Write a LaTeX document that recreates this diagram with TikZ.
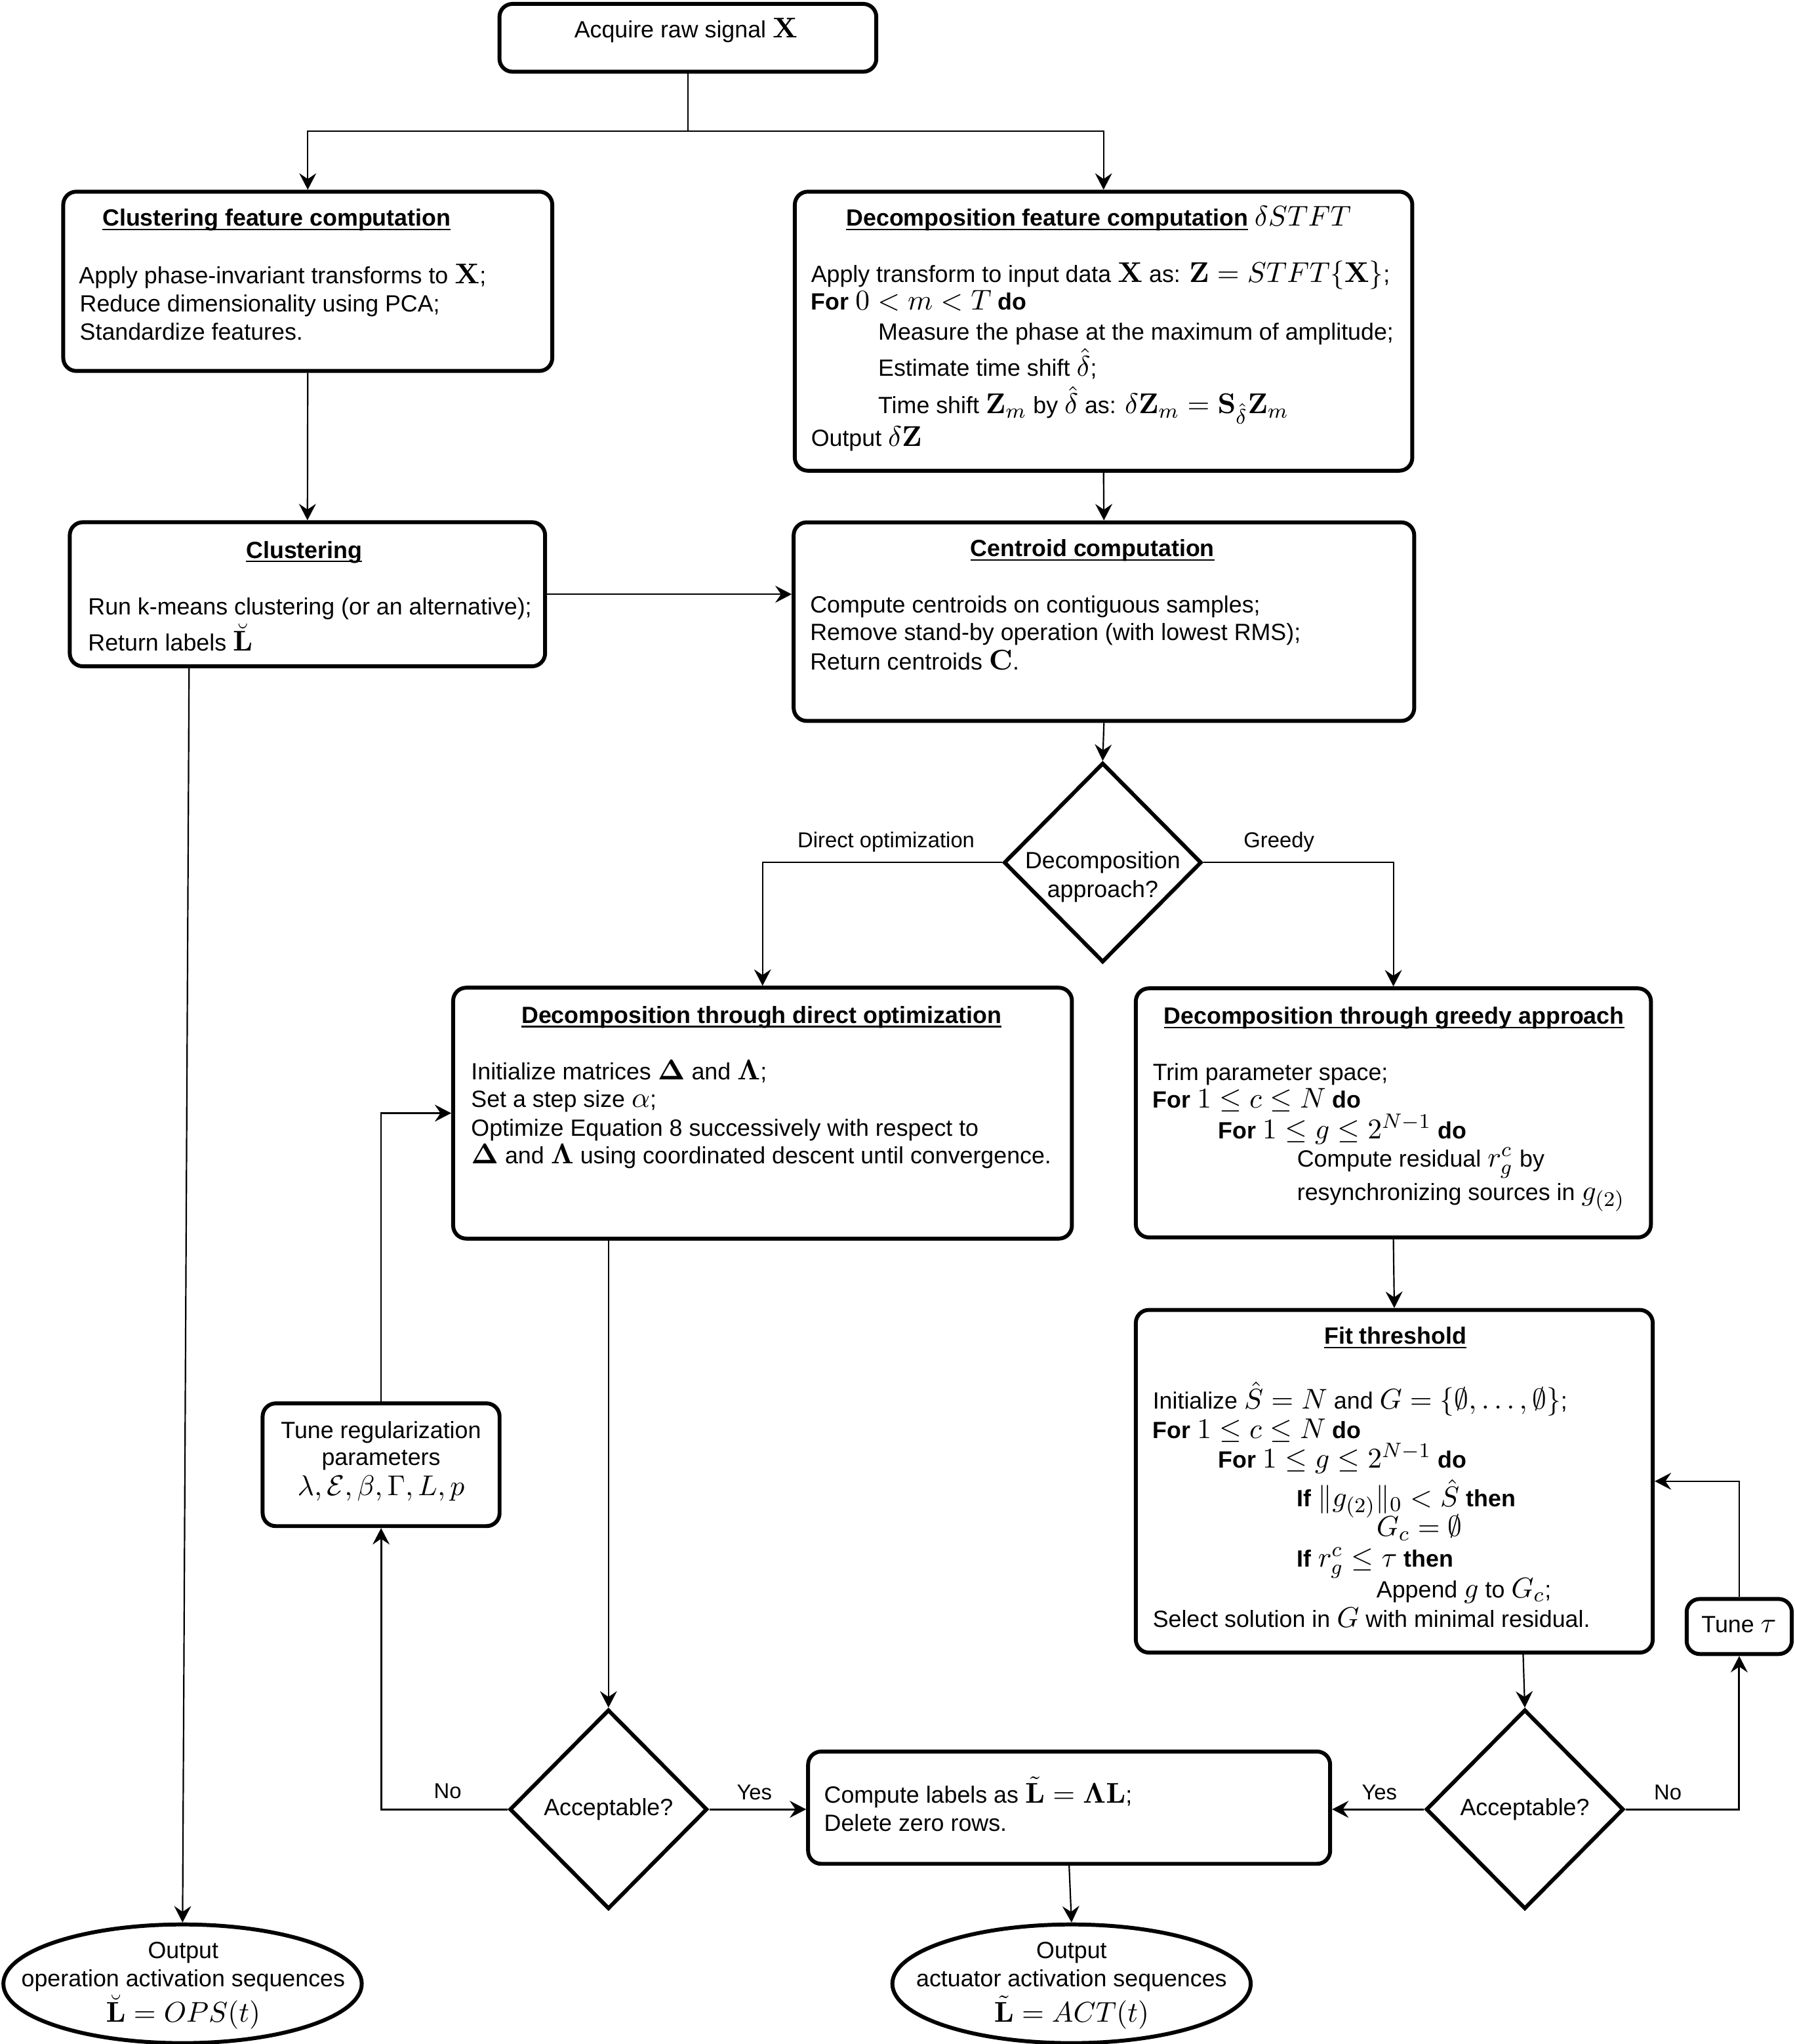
\documentclass[tikz,border=0pt]{standalone}
\usepackage{amsmath,amssymb}
\usepackage[no-math]{fontspec}
\setmainfont{Liberation Sans}
\DeclareMathSizes{9}{10.7}{7.8}{5.6}
\usetikzlibrary{shapes.geometric,arrows.meta,fit,calc}
\newcommand\myul[1]{\setbox0\hbox{#1}\rlap{\rule[-1.6pt]{\wd0}{0.55pt}}\box0\relax}
\tikzset{
  box/.style={draw, line width=1.5pt, rounded corners=5pt, inner sep=0pt},
  dia/.style={draw, diamond, line width=1.5pt, inner sep=0pt, minimum width=75.8pt, minimum height=76.5pt},
  ell/.style={draw, ellipse, line width=1.5pt, inner sep=0pt, minimum width=137.4pt, minimum height=45.5pt},
  txt/.style={inner sep=0pt, outer sep=0pt, font=\fontsize{9}{11}\selectfont},
  lbl/.style={inner sep=0pt, outer sep=0pt, font=\fontsize{8.25}{10}\selectfont},
  plain/.style={line width=0.55pt},
  conn/.style={line width=0.55pt, -{Stealth[length=6.3pt,width=6.5pt,inset=2.2pt]}},
  yn/.style={line width=0.75pt, -{Stealth[length=6.3pt,width=6.5pt,inset=2.2pt]}}
}
\begin{document}
\begin{tikzpicture}[x=0.5pt,y=-0.5pt]
\useasboundingbox (0,0) rectangle (1376,1567.6);

% ---- shapes
\node[box, fit={(383,3) (672,55)}] (top) {};
\node[box, fit={(48.5,147) (423.5,284.5)}] (cfc) {};
\node[box, fit={(53.5,400.5) (418,511)}] (clu) {};
\node[box, fit={(609.5,147) (1083,361)}] (dfc) {};
\node[box, fit={(608.6,400.6) (1084.5,552.9)}] (cen) {};
\node[dia] (dec) at (845.6,661.5) {};
\node[box, fit={(347.5,757.5) (822,949.9)}] (dir) {};
\node[box, fit={(871,758) (1266,949)}] (gre) {};
\node[box, fit={(871,1004.6) (1267.4,1267.4)}] (fth) {};
\node[box, fit={(1293.4,1226.3) (1374,1268.5)}] (tau) {};
\node[dia] (acc1) at (466.6,1387.6) {};
\node[dia] (acc2) at (1169.3,1387.6) {};
\node[box, fit={(619.7,1343.3) (1020,1429.4)}] (comp) {};
\node[box, fit={(201.4,1076.3) (383.1,1170.4)}] (treg) {};
\node[ell] (out1) at (140,1521.4) {};
\node[ell] (out2) at (821.7,1521.4) {};

% ---- texts
\node[txt, anchor=base] (ttop) at (526,28.7) {Acquire raw signal $\mathbf{X}$};

\node[txt, anchor=base west] (tcfc) at (78.6,173.4) {\myul{\textbf{Clustering feature computation}}};
\node[txt, anchor=base west] (c1) at (60.6,217.6) {Apply phase-invariant transforms to $\mathbf{X}$;};
\node[txt, anchor=base west] (c2) at (61.2,238.9) {Reduce dimensionality using PCA;};
\node[txt, anchor=base west] (c3) at (61.2,261) {Standardize features.};

\node[txt, anchor=base] (tclu) at (233.3,428) {\myul{\textbf{Clustering}}};
\node[txt, anchor=base west] (k1) at (67.6,471.5) {Run k-means clustering (or an alternative);};
\node[txt, anchor=base west] (k2) at (67.6,499) {Return labels $\breve{\mathbf{L}}$};

\node[txt, anchor=base west] (tdfc) at (649,173.5) {\myul{\textbf{Decomposition feature computation}} $\delta STFT$};
\node[txt, anchor=base west] (d1) at (622,216.6) {Apply transform to input data $\mathbf{X}$ as: $\mathbf{Z}=STFT\{\mathbf{X}\}$;};
\node[txt, anchor=base west] (d2) at (622,237.7) {\textbf{For} $0<m<T$ \textbf{do}};
\node[txt, anchor=base west] (d3) at (673.5,260.7) {Measure the phase at the maximum of amplitude;};
\node[txt, anchor=base west] (d4) at (673.5,288.3) {Estimate time shift $\hat{\delta}$;};
\node[txt, anchor=base west] (d5) at (673.5,317.2) {Time shift $\mathbf{Z}_m$ by $\hat{\delta}$ as: $\delta\mathbf{Z}_m=\mathbf{S}_{\hat{\delta}}\mathbf{Z}_m$};
\node[txt, anchor=base west] (d6) at (622,342.3) {Output $\delta\mathbf{Z}$};

\node[txt, anchor=base] (tcen) at (837.8,426.9) {\myul{\textbf{Centroid computation}}};
\node[txt, anchor=base west] (e1) at (621.3,470) {Compute centroids on contiguous samples;};
\node[txt, anchor=base west] (e2) at (621.3,491.2) {Remove stand-by operation (with lowest RMS);};
\node[txt, anchor=base west] (e3) at (621.3,513.9) {Return centroids $\mathbf{C}$.};

\node[txt, anchor=base] (q1) at (845.6,666.3) {Decomposition};
\node[txt, anchor=base] (q2) at (845.6,688.3) {approach?};

\node[txt, anchor=base] (tdir) at (583.9,784.7) {\myul{\textbf{Decomposition through direct optimization}}};
\node[txt, anchor=base west] (o1) at (361.3,827.8) {Initialize matrices $\mathbf{\Delta}$ and $\mathbf{\Lambda}$;};
\node[txt, anchor=base west] (o2) at (361.3,849) {Set a step size $\alpha$;};
\node[txt, anchor=base west] (o3) at (361.3,871.1) {Optimize Equation 8 successively with respect to};
\node[txt, anchor=base west] (o4) at (361.3,892.4) {$\mathbf{\Delta}$ and $\mathbf{\Lambda}$ using coordinated descent until convergence.};

\node[txt, anchor=base] (tgre) at (1069,785.5) {\myul{\textbf{Decomposition through greedy approach}}};
\node[txt, anchor=base west] (g1) at (884,828.6) {Trim parameter space;};
\node[txt, anchor=base west] (g2) at (884,849.8) {\textbf{For} $1\leq c\leq N$ \textbf{do}};
\node[txt, anchor=base west] (g3) at (934.2,873.4) {\textbf{For} $1\leq g\leq 2^{N-1}$ \textbf{do}};
\node[txt, anchor=base west] (g4) at (994.7,895) {Compute residual $r_g^c$ by};
\node[txt, anchor=base west] (g5) at (994.7,920.6) {resynchronizing sources in $g_{(2)}$};

\node[txt, anchor=base] (tfth) at (1070,1030.7) {\myul{\textbf{Fit threshold}}};
\node[txt, anchor=base west] (f1) at (884,1080.7) {Initialize $\hat{S}=N$ and $G=\{\emptyset,\ldots,\emptyset\}$;};
\node[txt, anchor=base west] (f2) at (884,1103.3) {\textbf{For} $1\leq c\leq N$ \textbf{do}};
\node[txt, anchor=base west] (f3) at (934.2,1125.8) {\textbf{For} $1\leq g\leq 2^{N-1}$ \textbf{do}};
\node[txt, anchor=base west] (f4) at (994.7,1155.5) {\textbf{If} $\|g_{(2)}\|_0<\hat{S}$ \textbf{then}};
\node[txt, anchor=base west] (f5) at (1055.6,1178.1) {$G_c=\emptyset$};
\node[txt, anchor=base west] (f6) at (994.7,1201.7) {\textbf{If} $r_g^c\leq\tau$ \textbf{then}};
\node[txt, anchor=base west] (f7) at (1055.6,1225.3) {Append $g$ to $G_c$;};
\node[txt, anchor=base west] (f8) at (884,1248.1) {Select solution in $G$ with minimal residual.};

\node[txt, anchor=base] (ttau) at (1333.5,1252) {Tune $\tau$};

\node[txt, anchor=base] (a1) at (466.6,1392.2) {Acceptable?};
\node[txt, anchor=base] (a2) at (1169.3,1392.2) {Acceptable?};

\node[txt, anchor=base west] (m1) at (632,1382.6) {Compute labels as $\tilde{\mathbf{L}}=\mathbf{\Lambda}\mathbf{L}$;};
\node[txt, anchor=base west] (m2) at (632,1404.5) {Delete zero rows.};

\node[txt, anchor=base] (r1) at (292.2,1102.9) {Tune regularization};
\node[txt, anchor=base] (r2) at (292.2,1123.7) {parameters};
\node[txt, anchor=base] (r3) at (292.2,1146.8) {$\lambda,\mathcal{E},\beta,\Gamma,L,p$};

\node[txt, anchor=base] (u1) at (140.5,1502) {Output};
\node[txt, anchor=base] (u2) at (140.5,1523.8) {operation activation sequences};
\node[txt, anchor=base] (u3) at (140.5,1550.6) {$\breve{\mathbf{L}}=OPS(t)$};

\node[txt, anchor=base] (v1) at (821.7,1502) {Output};
\node[txt, anchor=base] (v2) at (821.7,1523.8) {actuator activation sequences};
\node[txt, anchor=base] (v3) at (821.7,1550.6) {$\tilde{\mathbf{L}}=ACT(t)$};

\node[lbl, anchor=base] (l1) at (679.5,650) {Direct optimization};
\node[lbl, anchor=base] (l2) at (980.8,650) {Greedy};
\node[lbl, anchor=base] (l3) at (343.3,1379) {No};
\node[lbl, anchor=base] (l4) at (578.5,1380) {Yes};
\node[lbl, anchor=base] (l5) at (1057.8,1380) {Yes};
\node[lbl, anchor=base] (l6) at (1279,1380) {No};

% ---- connectors
\coordinate (split) at (527.5,100.4);
\draw[plain] (top.south) -- (split);
\draw[conn] (split) -| (cfc.north);
\draw[conn] (split) -| (dfc.north);
\draw[conn] (cfc.south) -- (clu.north);
\draw[conn] (clu.east) -- (clu.east -| cen.west);
\draw[conn] ($(clu.south west)+(93,0)$) -- (out1.north);
\draw[conn] (dfc.south) -- (cen.north);
\draw[conn] (cen.south) -- (dec.north);
\draw[conn] (dec.west) -| (dir.north);
\draw[conn] (dec.east) -| (gre.north);
\draw[conn] (gre.south) -- (fth.north);
\draw[conn] ($(fth.south west)+(298.5,0)$) -- (acc2.north);
\draw[yn] (acc2.west) -- (acc2.west -| comp.east);
\draw[yn] (acc2.east) -| (tau.south);
\draw[conn] (tau.north) |- (fth.east);
\draw[conn] (acc1.north |- dir.south) -- (acc1.north);
\draw[yn] (acc1.east) -- (acc1.east -| comp.west);
\draw[yn] (acc1.west) -| (treg.south);
\draw[conn] (treg.north) |- (dir.west);
\draw[conn] (comp.south) -- (out2.north);
\end{tikzpicture}
\end{document}
